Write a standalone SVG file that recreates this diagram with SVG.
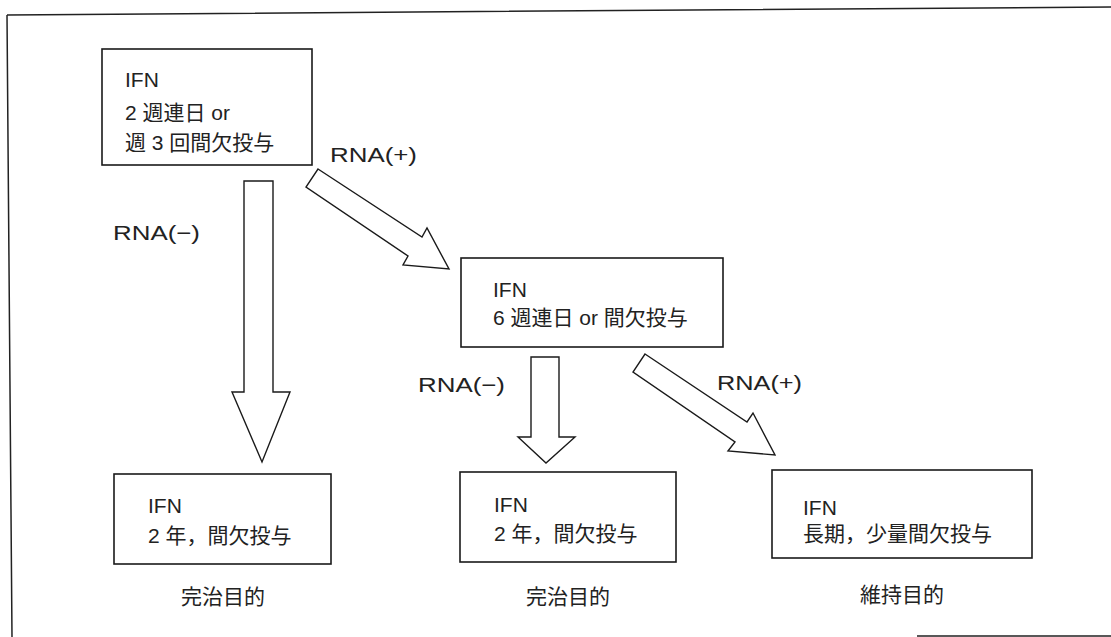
<svg xmlns="http://www.w3.org/2000/svg" width="1111" height="637" viewBox="0 0 1111 637">
<style>
.box{fill:#fff;stroke:#1a1a1a;stroke-width:1.6}
.arr{fill:#fff;stroke:#1a1a1a;stroke-width:1.4;stroke-linejoin:miter}
.frame{fill:none;stroke:#222;stroke-width:1.5}
text{font-family:"Liberation Sans","Noto Sans CJK JP",sans-serif;font-size:21px;fill:#222}
</style>
<rect width="1111" height="637" fill="#fff"/>
<g id="frame">
<path class="frame" d="M7,15 L1111,7 M7,15 L12,637 M917,636 L1111,636"/>
</g>
<g id="connectors">
<path id="arrow-left" class="arr" d="M244,181 L273,181 L273,392 L290,392 L262,462 L232,392 L244,392 Z"/>
<path id="arrow-diag1" class="arr" d="M318,169 L422,237 L427,228 L449,269 L403,265 L408,256 L306,187 Z"/>
<path id="arrow-mid" class="arr" d="M531,357 L559,357 L559,437 L575,437 L546,463 L518,437 L531,437 Z"/>
<path id="arrow-diag2" class="arr" d="M645,354 L747,422 L753,413 L775,455 L728,451 L735,442 L633,372 Z"/>
<text x="113" y="240" textLength="87" lengthAdjust="spacingAndGlyphs">RNA(−)</text>
<text x="330" y="162" textLength="87" lengthAdjust="spacingAndGlyphs">RNA(+)</text>
<text x="418" y="392" textLength="87" lengthAdjust="spacingAndGlyphs">RNA(−)</text>
<text x="717" y="390" textLength="85" lengthAdjust="spacingAndGlyphs">RNA(+)</text>
</g>
<g id="node-start">
<rect class="box" x="102" y="49" width="210" height="116"/>
<text x="125" y="87">IFN</text>
<text x="125" y="120">2 週連日 or</text>
<text x="125" y="150">週 3 回間欠投与</text>
</g>
<g id="node-6w">
<rect class="box" x="461" y="258" width="262" height="89"/>
<text x="493" y="297">IFN</text>
<text x="493" y="325">6 週連日 or 間欠投与</text>
</g>
<g id="node-2y-a">
<rect class="box" x="114" y="474" width="217" height="90"/>
<text x="148" y="513">IFN</text>
<text x="148" y="543">2 年，間欠投与</text>
<text x="181" y="604">完治目的</text>
</g>
<g id="node-2y-b">
<rect class="box" x="460" y="472" width="216" height="90"/>
<text x="494" y="512">IFN</text>
<text x="494" y="541">2 年，間欠投与</text>
<text x="526" y="604">完治目的</text>
</g>
<g id="node-long">
<rect class="box" x="772" y="470" width="260" height="88"/>
<text x="803" y="515">IFN</text>
<text x="803" y="541">長期，少量間欠投与</text>
<text x="860" y="602">維持目的</text>
</g>
</svg>
